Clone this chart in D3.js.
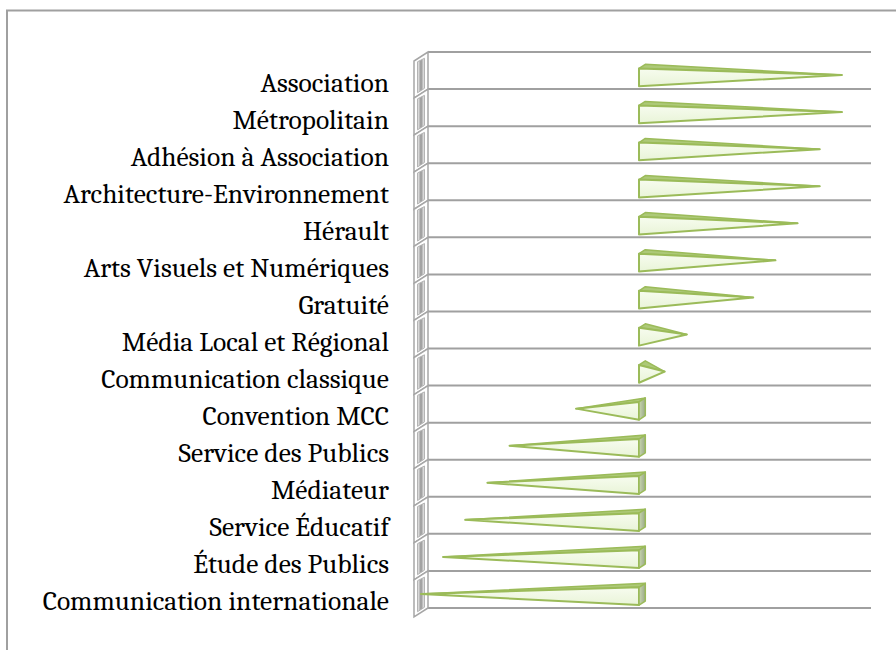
<!DOCTYPE html>
<html>
<head>
<meta charset="utf-8">
<script src="https://cdn.jsdelivr.net/npm/d3@7"></script>
<style>
  body { margin: 0; background: #fff; }
  svg { display: block; }
</style>
</head>
<body>
<svg id="chart" width="896" height="650"></svg>
<script>
// ---------------------------//
//      DATA                  //
// ---------------------------//
var categories = [
  "Association", "Métropolitain", "Adhésion à Association",
  "Architecture-Environnement", "Hérault", "Arts Visuels et Numériques",
  "Gratuité", "Média Local et Régional", "Communication classique",
  "Convention MCC", "Service des Publics", "Médiateur",
  "Service Éducatif ", "Étude des Publics", "Communication internationale"
];
var values = [9, 9, 8, 8, 7, 6, 5, 2, 1, -3, -6, -7, -8, -9, -10];
var xDomain = [-10, 10];

// ---------------------------//
//      SETUP                 //
// ---------------------------//
var svg = d3.select("#chart");
var DX = -14, DY = 9;   // depth offset back -> front

var x = d3.scaleLinear().domain(xDomain).range([428, 871]);
var y = d3.scaleBand().domain(categories).range([52, 608]).padding(0);
var bw = y.bandwidth();

// project a value / pixel y / depth (0 back, 1 front)
function P(v, yy, z) {
  return [x(v) + z * DX, yy + z * DY];
}

var defs = svg.append("defs");
var g1 = defs.append("linearGradient").attr("id", "wallGrad")
  .attr("x1", "0%").attr("x2", "100%").attr("y1", "0%").attr("y2", "0%");
g1.append("stop").attr("offset", "0%").attr("stop-color", "#f4f4f4");
g1.append("stop").attr("offset", "50%").attr("stop-color", "#959595");
g1.append("stop").attr("offset", "100%").attr("stop-color", "#f4f4f4");

var g2 = defs.append("linearGradient").attr("id", "frontGrad")
  .attr("x1", "0%").attr("x2", "0%").attr("y1", "0%").attr("y2", "100%");
g2.append("stop").attr("offset", "0%").attr("stop-color", "#f7fcef");
g2.append("stop").attr("offset", "100%").attr("stop-color", "#e9f4d8");

var g3 = defs.append("linearGradient").attr("id", "capGrad")
  .attr("x1", "0%").attr("x2", "100%").attr("y1", "0%").attr("y2", "0%");
g3.append("stop").attr("offset", "0%").attr("stop-color", "#c9d8ae");
g3.append("stop").attr("offset", "100%").attr("stop-color", "#9aa88a");

// outer frame
svg.append("rect")
  .attr("x", 7).attr("y", 10.5)
  .attr("width", 1000).attr("height", 1000)
  .attr("fill", "none")
  .attr("stroke", "#a0a0a0")
  .attr("stroke-width", 2);

// gridlines (back plane)
var bounds = categories.map(function(c) { return y(c); }).concat([y.range()[1]]);
svg.selectAll(".grid")
  .data(bounds)
  .enter()
  .append("line")
  .attr("class", "grid")
  .attr("x1", x(xDomain[0])).attr("x2", x(xDomain[1]))
  .attr("y1", function(d) { return d; }).attr("y2", function(d) { return d; })
  .attr("stroke", "#a0a0a0")
  .attr("stroke-width", 2);

// left wall panels
svg.selectAll(".wall")
  .data(categories)
  .enter()
  .append("polygon")
  .attr("class", "wall")
  .attr("points", function(c) {
    var t = y(c), b = y(c) + bw;
    return [P(xDomain[0], t, 0), P(xDomain[0], t, 1), P(xDomain[0], b, 1), P(xDomain[0], b, 0)].join(" ");
  })
  .attr("fill", "#ffffff")
  .attr("stroke", "#a6a6a6")
  .attr("stroke-width", 1.5);
svg.selectAll(".wallIn")
  .data(categories)
  .enter()
  .append("polygon")
  .attr("class", "wallIn")
  .attr("points", function(c) {
    var t = y(c) + 3, b = y(c) + bw - 3;
    return [P(xDomain[0], t + 1, 0.25), P(xDomain[0], t, 0.75), P(xDomain[0], b, 0.75), P(xDomain[0], b, 0.25)].join(" ");
  })
  .attr("fill", "url(#wallGrad)")
  .attr("stroke", "#b4b4b4")
  .attr("stroke-width", 1);

// ---------------------------//
//      BARS (pyramids)       //
// ---------------------------//
var hh = bw * 0.24, zb = 0.3, zf = 0.75;
var bars = svg.selectAll(".bar")
  .data(categories.map(function(c, i) { return { name: c, value: values[i] }; }))
  .enter()
  .append("g")
  .attr("class", "bar");

bars.each(function(d) {
  var yc = y(d.name) + bw / 2;
  var A = P(0, yc - hh, zf), B = P(0, yc + hh, zf);
  var C = P(0, yc - hh, zb), D = P(0, yc + hh, zb);
  var T = P(d.value, yc, 0.5);
  var sel = d3.select(this);
  // top face
  sel.append("polygon")
    .attr("points", [C, A, T].join(" "))
    .attr("fill", "#adc978")
    .attr("stroke", "#9bbb59").attr("stroke-width", 1.5).attr("stroke-linejoin", "round");
  // front face
  sel.append("polygon")
    .attr("points", [A, B, T].join(" "))
    .attr("fill", "url(#frontGrad)")
    .attr("stroke", "#9bbb59").attr("stroke-width", 2).attr("stroke-linejoin", "round");
  // base cap on negative bars
  if (d.value < 0) {
    sel.append("polygon")
      .attr("points", [A, C, D, B].join(" "))
      .attr("fill", "url(#capGrad)")
      .attr("stroke", "#9bbb59").attr("stroke-width", 1.5).attr("stroke-linejoin", "round");
  }
});

// ---------------------------//
//      LABELS                //
// ---------------------------//
svg.selectAll(".label")
  .data(categories)
  .enter()
  .append("text")
  .attr("class", "label")
  .attr("x", 389)
  .attr("y", function(c) { return y(c) + bw / 2 + DY + 3; })
  .attr("dominant-baseline", "central")
  .attr("text-anchor", "end")
  .style("font-family", "Cambria, 'DejaVu Serif', serif")
  .style("font-size", "27.5px")
  .style("fill", "#000")
  .text(function(c) { return c; });
</script>
</body>
</html>
